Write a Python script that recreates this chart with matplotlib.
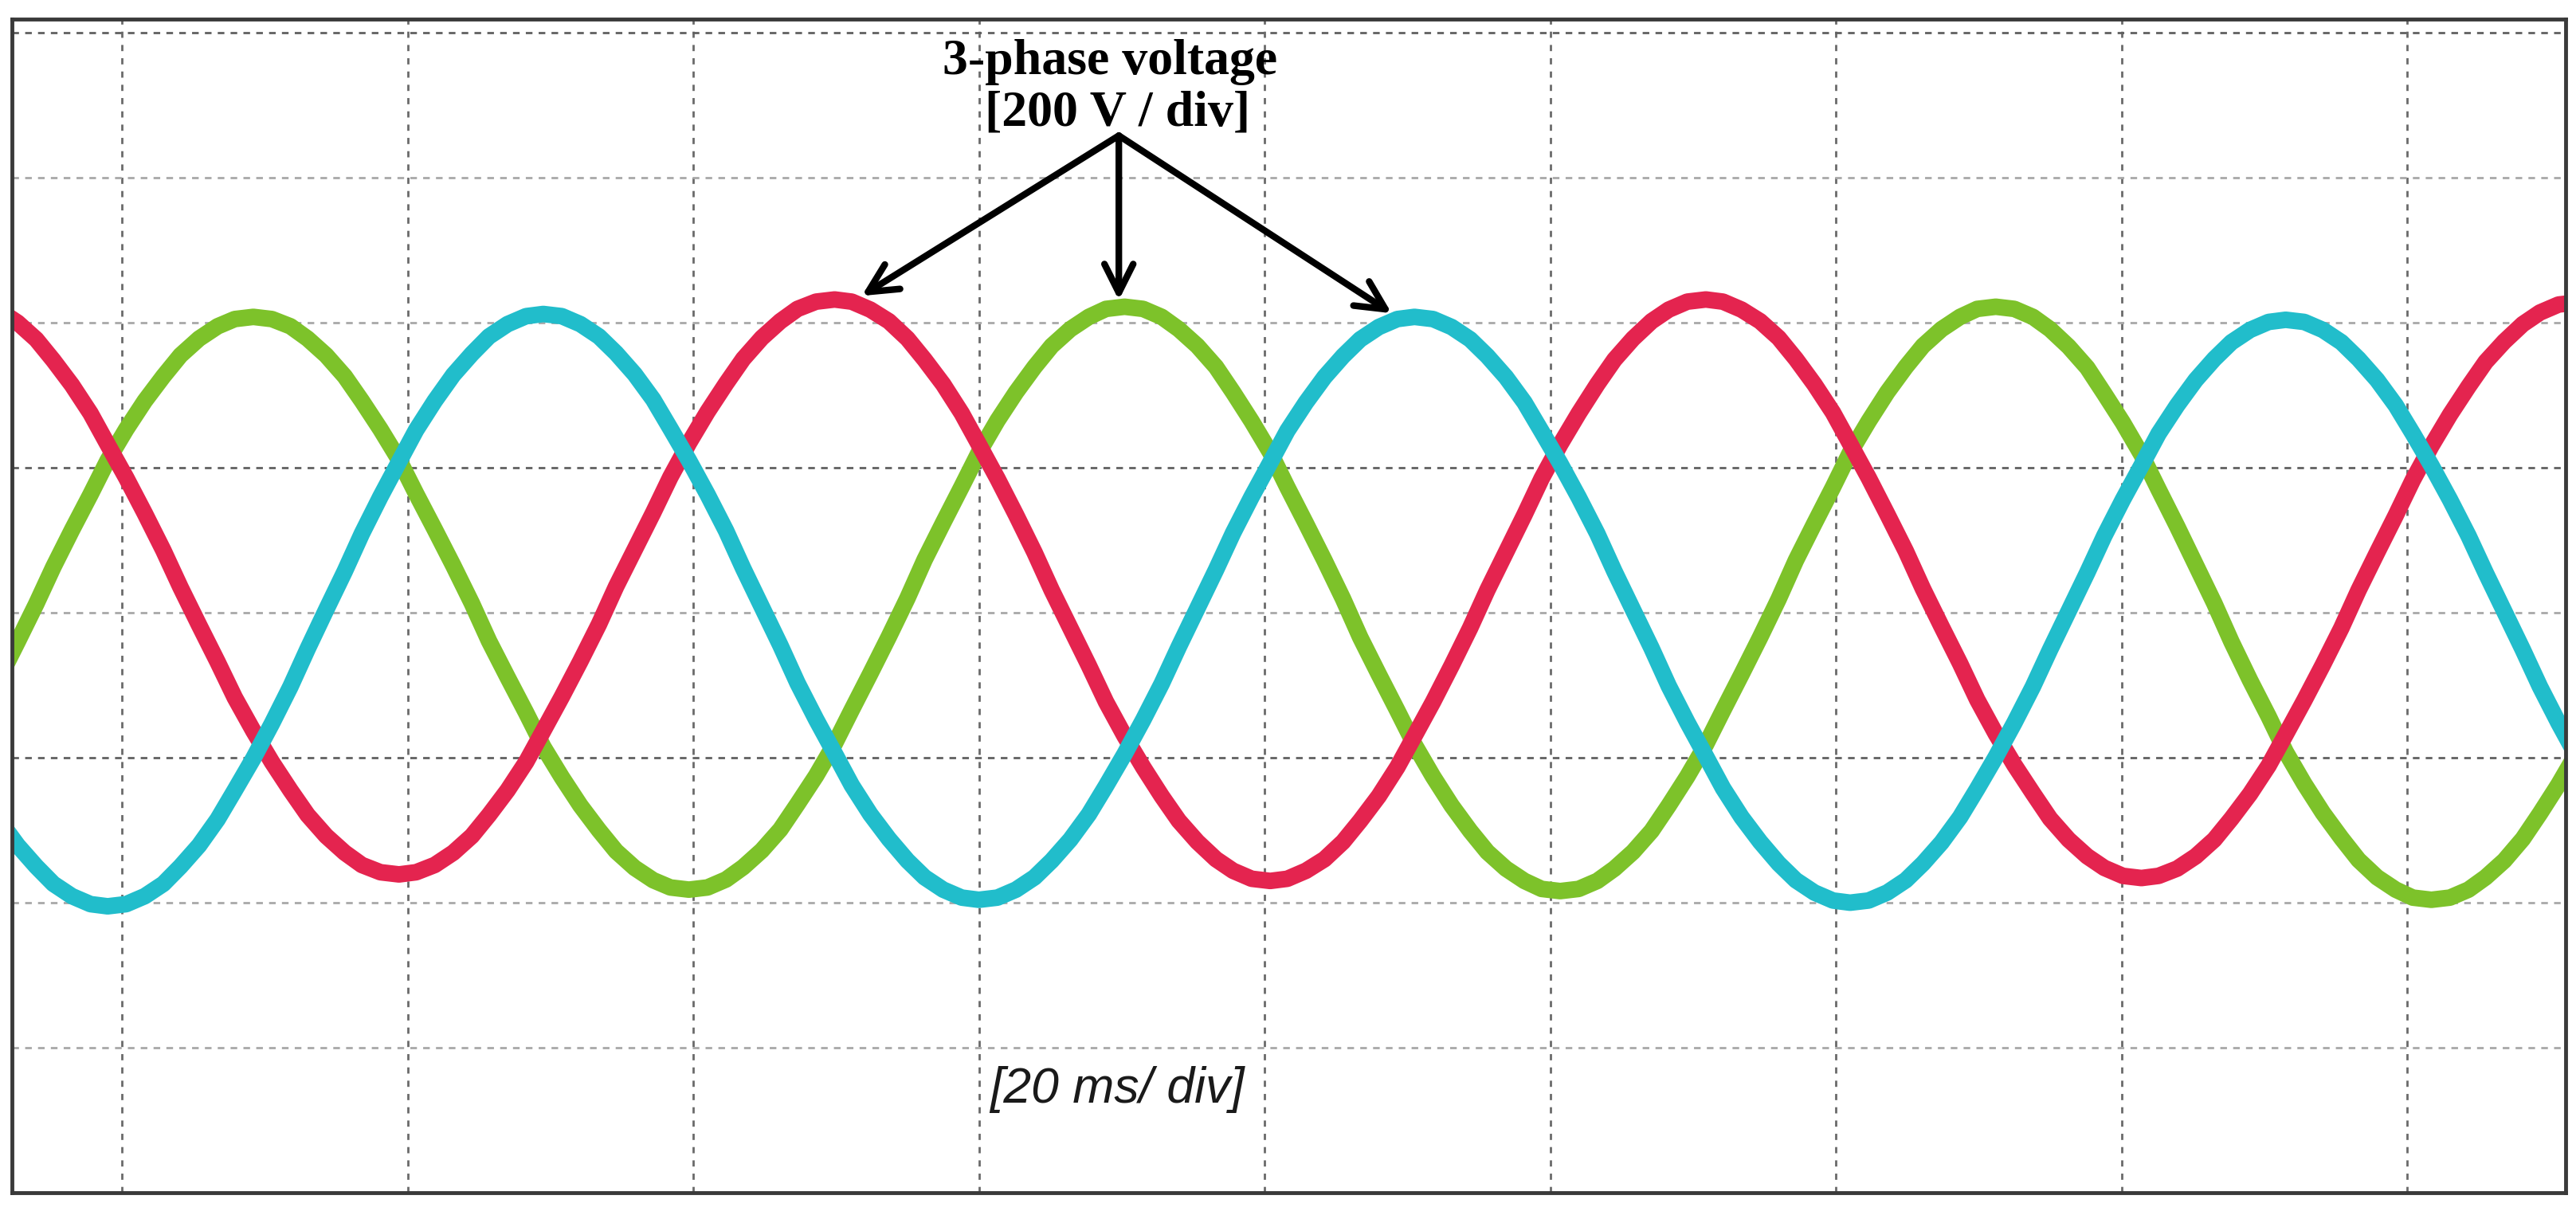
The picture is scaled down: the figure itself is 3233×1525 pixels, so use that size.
import matplotlib.pyplot as plt

# ── Data read off the scope capture ──────────────────────────────────────────
# time axis in ms (20 ms/div), voltage in V (200 V/div, 0 V on the 4th line)
t_ms = [-8.6, -7.3, -6.0, -4.8, -3.5, -2.2, -1.0, 0.3, 1.6, 2.9,
        4.1, 5.4, 6.7, 7.9, 9.2, 10.5, 11.8, 13.0, 14.3, 15.6,
        16.8, 18.1, 19.4, 20.6, 21.9, 23.2, 24.5, 25.7, 27.0, 28.3,
        29.5, 30.8, 32.1, 33.4, 34.6, 35.9, 37.2, 38.4, 39.7, 41.0,
        42.3, 43.5, 44.8, 46.1, 47.3, 48.6, 49.9, 51.1, 52.4, 53.7,
        55.0, 56.2, 57.5, 58.8, 60.0, 61.3, 62.6, 63.9, 65.1, 66.4,
        67.7, 68.9, 70.2, 71.5, 72.8, 74.0, 75.3, 76.6, 77.8, 79.1,
        80.4, 81.6, 82.9, 84.2, 85.5, 86.7, 88.0, 89.3, 90.5, 91.8,
        93.1, 94.4, 95.6, 96.9, 98.2, 99.4, 100.7, 102.0, 103.3, 104.5,
        105.8, 107.1, 108.3, 109.6, 110.9, 112.1, 113.4, 114.7, 116.0, 117.2,
        118.5, 119.8, 121.0, 122.3, 123.6, 124.9, 126.1, 127.4, 128.7, 129.9,
        131.2, 132.5, 133.8, 135.0, 136.3, 137.6, 138.8, 140.1, 141.4, 142.6,
        143.9, 145.2, 146.5, 147.7, 149.0, 150.3, 151.5, 152.8, 154.1, 155.4,
        156.6, 157.9, 159.2, 160.4, 161.7, 163.0, 164.3, 165.5, 166.8, 168.1,
        169.3, 170.6, 171.9]

v_red = [417, 400, 377, 348, 314, 275, 232, 186, 137, 86,
         35, -17, -68, -117, -163, -206, -245, -279, -308, -331,
         -348, -358, -361, -358, -348, -331, -308, -279, -245, -206,
         -163, -116, -67, -16, 36, 87, 138, 187, 234, 277,
         316, 350, 379, 402, 419, 429, 432, 429, 418, 402,
         378, 349, 315, 275, 232, 185, 135, 83, 31, -21,
         -73, -123, -170, -213, -253, -287, -316, -340, -356, -367,
         -370, -367, -356, -340, -316, -287, -253, -213, -170, -123,
         -73, -21, 31, 83, 135, 185, 232, 275, 315, 349,
         378, 402, 418, 429, 432, 429, 418, 402, 379, 350,
         315, 276, 233, 186, 136, 85, 33, -19, -70, -120,
         -167, -210, -249, -284, -313, -336, -352, -363, -366, -363,
         -353, -336, -313, -284, -250, -211, -168, -121, -72, -21,
         31, 83, 134, 183, 230, 273, 312, 346, 374, 398,
         414, 425, 428]

v_green = [-91, -40, 12, 63, 114, 163, 210, 253, 292, 326,
           355, 378, 395, 405, 408, 405, 395, 378, 355, 326,
           292, 253, 211, 164, 115, 65, 13, -39, -89, -138,
           -185, -227, -266, -300, -329, -352, -369, -379, -382, -379,
           -368, -351, -328, -299, -264, -225, -181, -134, -84, -33,
           20, 73, 124, 174, 221, 265, 304, 339, 368, 391,
           408, 419, 422, 419, 408, 391, 368, 339, 304, 264,
           221, 173, 123, 72, 19, -34, -85, -135, -182, -226,
           -266, -301, -330, -353, -370, -381, -384, -381, -370, -353,
           -330, -301, -266, -226, -182, -135, -85, -34, 19, 72,
           123, 173, 221, 264, 304, 339, 368, 391, 408, 419,
           422, 419, 408, 391, 367, 338, 302, 262, 218, 170,
           119, 66, 13, -40, -93, -143, -192, -236, -276, -311,
           -341, -365, -382, -393, -396, -393, -382, -365, -342, -312,
           -277, -237, -193]

v_cyan = [-286, -321, -350, -374, -391, -402, -405, -402, -391, -374,
          -350, -321, -285, -245, -201, -153, -102, -50, 4, 57,
          109, 160, 208, 252, 292, 328, 357, 381, 398, 409,
          412, 409, 398, 381, 358, 329, 294, 254, 210, 163,
          113, 61, 8, -45, -97, -147, -194, -238, -278, -312,
          -342, -365, -382, -393, -396, -393, -382, -365, -342, -313,
          -278, -239, -195, -148, -98, -47, 6, 59, 110, 160,
          207, 251, 290, 325, 354, 377, 394, 405, 408, 405,
          394, 377, 354, 325, 290, 250, 206, 159, 109, 57,
          4, -49, -101, -151, -198, -242, -282, -316, -346, -369,
          -386, -397, -400, -397, -386, -369, -346, -317, -282, -243,
          -199, -152, -102, -51, 2, 55, 106, 156, 203, 247,
          286, 321, 350, 373, 390, 401, 404, 401, 390, 373,
          350, 321, 286, 247, 203, 156, 106, 55, 2, -51,
          -102, -152, -199]

x_grid = [0, 20, 40, 60, 80, 100, 120, 140, 160]
y_grid = [-600, -400, -200, 0, 200, 400, 600, 800]
y_dark = [-200, 200, 800]      # these lines came out darker in the capture

COL_RED, COL_GREEN, COL_CYAN = '#e4244f', '#7dc22a', '#21bdcb'

# ── Figure: one big "scope screen" axes ──────────────────────────────────────
fig = plt.figure(figsize=(32.33, 15.25), dpi=100)
ax = fig.add_axes([0.00464, 0.01836, 0.99134, 0.96590])
ax.set_xlim(-7.7, 171.1)
ax.set_ylim(-800, 818.7)
ax.set_xticks([])
ax.set_yticks([])

for sp in ax.spines.values():
    sp.set_color('#3a3a3a')
    sp.set_linewidth(3.5)
    sp.set_zorder(10)

# dashed graticule
for xv in x_grid:
    ax.axvline(xv, color='#6a6a6a', lw=2.0, ls=(0, (2.8, 3.2)), zorder=1)
for yv in y_grid:
    c = '#606060' if yv in y_dark else '#a8a8a8'
    ax.axhline(yv, color=c, lw=2.0, ls=(0, (3.0, 2.8)), zorder=1)

# the three phase traces
for v, col, z in [(v_green, COL_GREEN, 3), (v_red, COL_RED, 4), (v_cyan, COL_CYAN, 5)]:
    ax.plot(t_ms, v, color=col, lw=15, solid_capstyle='round',
            solid_joinstyle='round', zorder=z)

# ── Annotations ──────────────────────────────────────────────────────────────
ax.text(69.2, 742.8, '3-phase voltage', ha='center', va='baseline',
        fontsize=46, fontweight='bold', family='Liberation Serif', zorder=7)
ax.text(69.7, 672, '[200 V / div]', ha='center', va='baseline',
        fontsize=46, fontweight='bold', family='Liberation Serif', zorder=7)

apex = (69.8, 658)
for tip in [(51.8, 437), (69.8, 431), (88.9, 413)]:
    ax.annotate('', xy=tip, xytext=apex,
                arrowprops=dict(arrowstyle='->,head_length=1.3,head_width=0.65',
                                lw=6, color='black', mutation_scale=20,
                                shrinkA=0, shrinkB=0),
                zorder=7)

ax.text(69.7, -675.6, '[20 ms/ div]', ha='center', va='baseline',
        fontsize=45, style='italic', family='Liberation Sans',
        color='#1a1a1a', zorder=7)

fig.savefig('out.png', dpi=100)
